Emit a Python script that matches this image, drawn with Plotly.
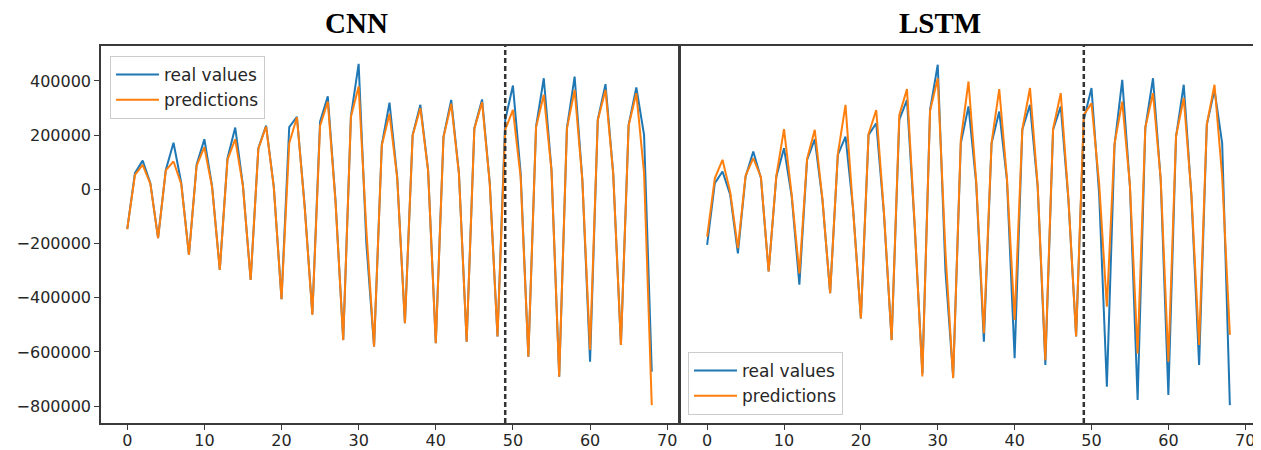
import plotly.graph_objects as go

x_idx = list(range(69))

cnn_real = [-147000, 60000, 106000, 23000, -180000, 72000, 172000, 25000, -242000, 92000,
            185000, 12000, -297000, 115000, 228000, 15000, -334000, 152000, 235000, 10000,
            -405000, 230000, 268000, -60000, -460000, 250000, 343000, -40000, -556000, 270000,
            463000, -200000, -580000, 164000, 320000, 45000, -494000, 201000, 312000, 72000,
            -568000, 195000, 330000, 60000, -562000, 226000, 332000, 23000, -543000, 255000,
            383000, 60000, -617000, 232000, 410000, 72000, -691000, 226000, 416000, 35000,
            -636000, 257000, 388000, 60000, -574000, 238000, 376000, 201000, -673000]
cnn_pred = [-147000, 53000, 90000, 20000, -180000, 70000, 103000, 20000, -242000, 88000,
            156000, 8000, -297000, 110000, 185000, 12000, -334000, 150000, 232000, 8000,
            -405000, 170000, 266000, -65000, -463000, 234000, 324000, -45000, -556000, 268000,
            380000, -150000, -580000, 162000, 279000, 42000, -494000, 199000, 300000, 70000,
            -568000, 193000, 316000, 58000, -562000, 224000, 322000, 20000, -543000, 220000,
            293000, 45000, -617000, 230000, 349000, 70000, -691000, 224000, 367000, 33000,
            -592000, 255000, 367000, 58000, -574000, 236000, 355000, 60000, -796000]
lstm_real = [-205000, 23000, 66000, -20000, -236000, 47000, 140000, 41000, -303000, 47000,
             152000, -26000, -352000, 109000, 185000, -39000, -383000, 127000, 195000, -76000,
             -476000, 201000, 244000, -90000, -556000, 257000, 330000, -137000, -679000, 293000,
             460000, -300000, -690000, 170000, 306000, 23000, -562000, 170000, 287000, 35000,
             -623000, 220000, 312000, 10000, -648000, 220000, 306000, -39000, -543000, 257000,
             374000, -20000, -728000, 164000, 404000, 10000, -777000, 226000, 410000, 35000,
             -759000, 195000, 386000, -26000, -648000, 238000, 367000, 170000, -796000]
lstm_pred = [-174000, 41000, 109000, -10000, -217000, 50000, 115000, 45000, -303000, 50000,
             222000, -20000, -310000, 112000, 220000, -35000, -383000, 130000, 312000, -70000,
             -476000, 205000, 293000, -85000, -556000, 275000, 370000, -130000, -690000, 290000,
             410000, -230000, -697000, 183000, 398000, 30000, -531000, 172000, 370000, 40000,
             -482000, 222000, 374000, 15000, -630000, 222000, 355000, -35000, -543000, 275000,
             318000, 20000, -433000, 170000, 324000, 15000, -605000, 228000, 355000, 40000,
             -636000, 197000, 337000, -20000, -574000, 240000, 386000, 47000, -537000]

split_index = 49
panel_titles = ["CNN", "LSTM"]
series_names = ["real values", "predictions"]
y_tick_vals = [-800000, -600000, -400000, -200000, 0, 200000, 400000]
y_tick_text = ["\u2212800000", "\u2212600000", "\u2212400000", "\u2212200000", "0", "200000", "400000"]
x_tick_vals = [0, 10, 20, 30, 40, 50, 60, 70]

BLUE = "#1f77b4"
ORANGE = "#ff7f0e"
OFF = 8  # page body margin
W, H = 1261 - OFF, 450 - OFF


def px(xo):
    return (xo - OFF) / W


def py(yo):
    return 1 - (yo - OFF) / H


fig = go.Figure()
fig.add_trace(go.Scatter(x=x_idx, y=cnn_real, mode="lines", name=series_names[0],
                         line=dict(color=BLUE, width=2), xaxis="x", yaxis="y", legend="legend"))
fig.add_trace(go.Scatter(x=x_idx, y=cnn_pred, mode="lines", name=series_names[1],
                         line=dict(color=ORANGE, width=2), xaxis="x", yaxis="y", legend="legend"))
fig.add_trace(go.Scatter(x=x_idx, y=lstm_real, mode="lines", name=series_names[0],
                         line=dict(color=BLUE, width=2), xaxis="x2", yaxis="y2", legend="legend2"))
fig.add_trace(go.Scatter(x=x_idx, y=lstm_pred, mode="lines", name=series_names[1],
                         line=dict(color=ORANGE, width=2), xaxis="x2", yaxis="y2", legend="legend2"))

ydom = [py(423), py(46)]
axis_common = dict(showline=True, linecolor="#3a3a3a", linewidth=1.5, mirror=True,
                   showgrid=False, zeroline=False, ticks="outside", ticklen=5,
                   tickcolor="#3a3a3a", tickwidth=1.2, automargin=False,
                   tickfont=dict(family="DejaVu Sans", size=16, color="#262626"))
xrange_ = [-3.4, 71.4]
yrange_ = [-862000, 529000]

legend_common = dict(xanchor="left", xref="paper", yref="paper", itemwidth=43,
                     bgcolor="rgba(255,255,255,0.85)", bordercolor="#cccccc", borderwidth=1,
                     font=dict(family="DejaVu Sans", size=17, color="#262626"), tracegroupgap=0)

fig.update_layout(
    width=W, height=H,
    margin=dict(l=0, r=0, t=0, b=0, autoexpand=False),
    paper_bgcolor="white", plot_bgcolor="white",
    xaxis=dict(domain=[px(101), px(678)], range=xrange_, tickvals=x_tick_vals, anchor="y",
               ticklabelstandoff=-3, **axis_common),
    yaxis=dict(domain=ydom, range=yrange_, tickvals=y_tick_vals, ticktext=y_tick_text, anchor="x", **axis_common),
    xaxis2=dict(domain=[px(681), px(1256)], range=xrange_, tickvals=x_tick_vals, anchor="y2",
                ticklabelstandoff=-3, **axis_common),
    yaxis2=dict(domain=ydom, range=yrange_, tickvals=y_tick_vals, anchor="x2",
                **{**axis_common, "ticks": "", "showticklabels": False}),
    legend=dict(x=px(110), y=py(56), yanchor="top", **legend_common),
    legend2=dict(x=px(688), y=py(415), yanchor="bottom", **legend_common),
    showlegend=True,
)

for xr in ["x", "x2"]:
    yr = "y" if xr == "x" else "y2"
    fig.add_shape(type="line", xref=xr, yref=yr + " domain", x0=split_index, x1=split_index, y0=0, y1=1,
                  line=dict(color="#333333", width=2.5, dash="5px,3px"), layer="above")

for title, cx in zip(panel_titles, [357, 940]):
    fig.add_annotation(text="<b>" + title + "</b>", x=px(cx), y=py(23), xref="paper", yref="paper",
                       xanchor="center", yanchor="middle", showarrow=False,
                       font=dict(family="Liberation Serif", size=29, color="black"))

fig.write_html("out.html")
